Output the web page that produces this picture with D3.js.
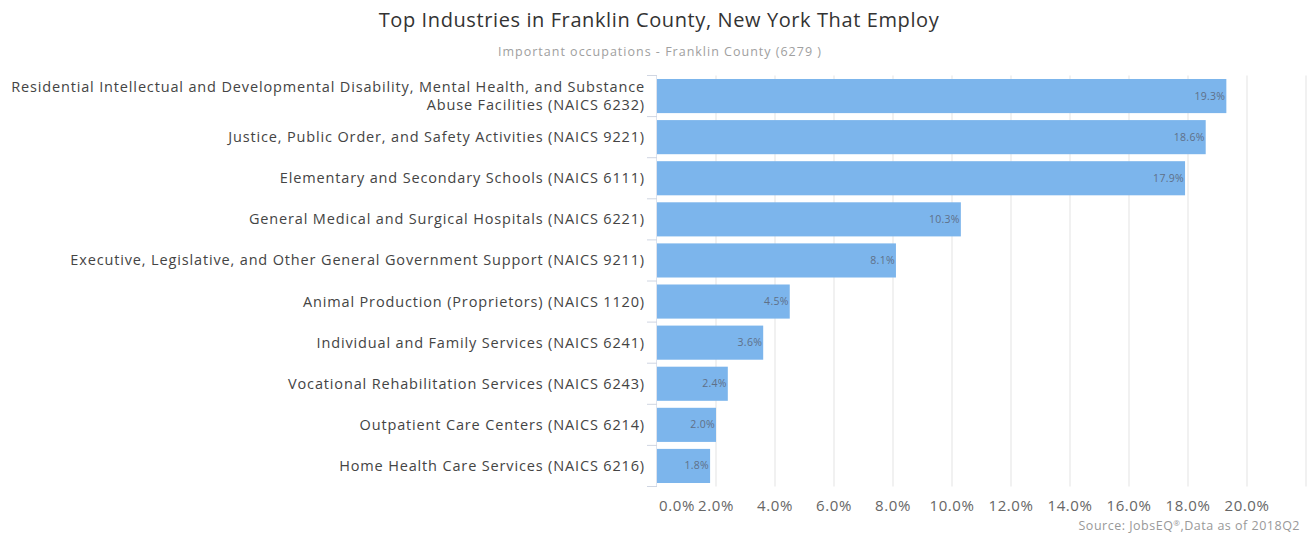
<!DOCTYPE html>
<html>
<head>
<meta charset="utf-8">
<script src="https://cdn.jsdelivr.net/npm/d3@7"></script>
<style>
  html, body { margin: 0; padding: 0; background: #fff; }
  svg { display: block; font-family: "Open Sans", "Noto Sans", sans-serif; }
</style>
</head>
<body>
<svg id="chart" width="1312" height="535"></svg>
<script>
// Industry names (two-line labels use an array of lines)
const categories = [
  ["Residential Intellectual and Developmental Disability, Mental Health, and Substance", "Abuse Facilities (NAICS 6232)"],
  ["Justice, Public Order, and Safety Activities (NAICS 9221)"],
  ["Elementary and Secondary Schools (NAICS 6111)"],
  ["General Medical and Surgical Hospitals (NAICS 6221)"],
  ["Executive, Legislative, and Other General Government Support (NAICS 9211)"],
  ["Animal Production (Proprietors) (NAICS 1120)"],
  ["Individual and Family Services (NAICS 6241)"],
  ["Vocational Rehabilitation Services (NAICS 6243)"],
  ["Outpatient Care Centers (NAICS 6214)"],
  ["Home Health Care Services (NAICS 6216)"]
];
// Share of employment, percent
const shares = [19.3, 18.6, 17.9, 10.3, 8.1, 4.5, 3.6, 2.4, 2.0, 1.8];
// Value-axis ticks (percent); labelled ones and gridlines
const gridTicks = [0, 2, 4, 6, 8, 10, 12, 14, 16, 18, 20, 22];
const labelTicks = [0, 2, 4, 6, 8, 10, 12, 14, 16, 18, 20];

const titleText = "Top Industries in Franklin County, New York That Employ";
const subtitleText = "Important occupations - Franklin County (6279 )";
// Credit pieces: text before the registered mark, the mark, and the rest
const creditParts = ["Source: JobsEQ", "\u00AE", ",Data as of 2018Q2"];

const svg = d3.select("#chart");
const plot = { left: 657, right: 1306, top: 75.5, bottom: 486.5 };

const x = d3.scaleLinear().domain([0, 22]).range([plot.left, plot.right]);
const y = d3.scaleBand()
  .domain(d3.range(categories.length))
  .range([plot.top, plot.bottom])
  .paddingInner(0.17)
  .paddingOuter(0.085);

// Title and subtitle
svg.append("text")
  .attr("x", 659).attr("y", 27)
  .attr("text-anchor", "middle")
  .attr("font-size", 20)
  .attr("letter-spacing", 0.6)
  .attr("fill", "#333")
  .text(titleText);
svg.append("text")
  .attr("x", 660).attr("y", 56)
  .attr("text-anchor", "middle")
  .attr("font-size", 12.5)
  .attr("letter-spacing", 1.0)
  .attr("fill", "#a0a0a0")
  .text(subtitleText);

// Vertical gridlines
svg.append("g")
  .selectAll("line")
  .data(gridTicks.filter(d => d > 0))
  .join("line")
  .attr("x1", d => x(d)).attr("x2", d => x(d))
  .attr("y1", plot.top).attr("y2", plot.bottom)
  .attr("stroke", "#ececec")
  .attr("stroke-width", 1.5);

// Category axis line and tick marks at band boundaries
const step = y.step();
const boundaries = d3.range(categories.length + 1).map(i => plot.top + i * step);
svg.append("line")
  .attr("x1", plot.left - 0.5).attr("x2", plot.left - 0.5)
  .attr("y1", plot.top).attr("y2", plot.bottom)
  .attr("stroke", "#dde3ee");
svg.append("g")
  .selectAll("line")
  .data(boundaries)
  .join("line")
  .attr("x1", plot.left - 10).attr("x2", plot.left)
  .attr("y1", d => d).attr("y2", d => d)
  .attr("stroke", "#d0d6e2");

// Bars
svg.append("g")
  .selectAll("rect")
  .data(shares)
  .join("rect")
  .attr("x", x(0))
  .attr("y", (d, i) => y(i))
  .attr("width", d => x(d) - x(0))
  .attr("height", y.bandwidth())
  .attr("fill", "#7cb5ec");

// Value labels inside bar ends
svg.append("g")
  .selectAll("text")
  .data(shares)
  .join("text")
  .attr("x", d => x(d) - 1)
  .attr("y", (d, i) => y(i) + y.bandwidth() / 2 + 3.5)
  .attr("text-anchor", "end")
  .attr("font-size", 10.5)
  .attr("letter-spacing", 0.3)
  .attr("fill", "#5f7088")
  .text(d => d.toFixed(1) + "%");

// Category labels
const labels = svg.append("g")
  .selectAll("text")
  .data(categories)
  .join("text")
  .attr("text-anchor", "end")
  .attr("font-size", 14.5)
  .attr("letter-spacing", 0.85)
  .attr("fill", "#444");
labels.each(function(lines, i) {
  const cy = y(i) + y.bandwidth() / 2;
  const lh = 18;
  const y0 = cy - (lines.length - 1) * lh / 2 + 5;
  d3.select(this).selectAll("tspan")
    .data(lines)
    .join("tspan")
    .attr("x", 645)
    .attr("y", (l, j) => y0 + j * lh)
    .text(l => l);
});

// Value-axis labels
svg.append("g")
  .selectAll("text")
  .data(labelTicks)
  .join("text")
  .attr("x", d => d === 0 ? x(d) + 2 : x(d))
  .attr("y", 511)
  .attr("text-anchor", d => d === 0 ? "start" : "middle")
  .attr("font-size", 15)
  .attr("letter-spacing", 0.6)
  .attr("fill", "#666")
  .text(d => d.toFixed(1) + "%");

// Credit with a raised, smaller registered mark
const credit = svg.append("text")
  .attr("x", 1300).attr("y", 530)
  .attr("text-anchor", "end")
  .attr("font-size", 12.5)
  .attr("letter-spacing", 0.5)
  .attr("fill", "#999");
credit.append("tspan").text(creditParts[0]);
credit.append("tspan").attr("font-size", 8).attr("dy", -4).text(creditParts[1]);
credit.append("tspan").attr("dy", 4).text(creditParts[2]);
</script>
</body>
</html>
